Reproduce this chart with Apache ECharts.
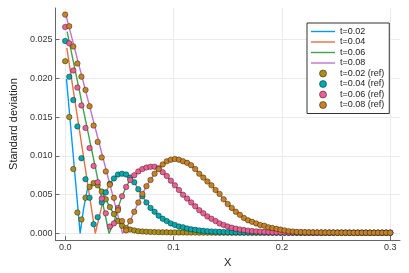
<!DOCTYPE html>
<html><head><meta charset="utf-8">
<script src="https://cdn.jsdelivr.net/npm/echarts@6/dist/echarts.min.js"></script>
<style>html,body{margin:0;padding:0;background:#fff}#c{width:409px;height:273px}</style>
</head><body><div id="c"></div>
<script>
// grid of x positions for the reference points
const xs = [0,0.00375,0.0075,0.01125,0.015,0.01875,0.0225,0.02625,0.03,0.03375,0.0375,0.04125,0.045,0.04875,0.0525,0.05625,0.06,0.06375,0.0675,0.07125,0.075,0.07875,0.0825,0.08625,0.09,0.09375,0.0975,0.10125,0.105,0.10875,0.1125,0.11625,0.12,0.12375,0.1275,0.13125,0.135,0.13875,0.1425,0.14625,0.15,0.15375,0.1575,0.16125,0.165,0.16875,0.1725,0.17625,0.18,0.18375,0.1875,0.19125,0.195,0.19875,0.2025,0.20625,0.21,0.21375,0.2175,0.22125,0.225,0.22875,0.2325,0.23625,0.24,0.24375,0.2475,0.25125,0.255,0.25875,0.2625,0.26625,0.27,0.27375,0.2775,0.28125,0.285,0.28875,0.2925,0.29625,0.3];

const ref02 = [0.0222,0.0150,0.0083,0.0027,0.0018,0.0046,0.0060,0.0065,0.0062,0.0054,0.0044,0.0034,0.0025,0.0016,0.0010,0.0007,0.0005,0.0004,0.0003,0.00026,0.00023,0.0002,0.00018,0.00017,0.00016,0.00015,0.00014,0.00014,0.00013,0.00013,0.00012,0.00012,0.00012,0.00011,0.00011,0.00011,0.00011,0.0001,0.0001,0.0001,0.0001,0.0001,0.0001,0.0001,0.0001,0.0001,0.0001,0.0001,0.0001,0.0001,0.0001,0.0001,0.0001,0.0001,0.0001,0.0001,0.0001,0.0001,0.0001,0.0001,0.0001,0.0001,0.0001,0.0001,0.0001,0.0001,0.0001,0.0001,0.0001,0.0001,0.0001,0.0001,0.0001,0.0001,0.0001,0.0001,0.0001,0.0001,0.0001,0.0001,0.0001];

const ref04 = [0.0248,0.0202,0.0172,0.0138,0.0097,0.0070,0.0046,0.0012,0.0021,0.0040,0.0053,0.0064,0.0071,0.0076,0.0077,0.0076,0.0072,0.0066,0.0057,0.0048,0.0040,0.0033,0.0028,0.0023,0.0019,0.0016,0.0013,0.0011,0.0009,0.0008,0.00065,0.00055,0.00047,0.0004,0.00035,0.0003,0.00027,0.00024,0.00021,0.00019,0.00017,0.00016,0.00015,0.00015,0.00014,0.00014,0.00013,0.00013,0.00012,0.00012,0.00012,0.00011,0.00011,0.00011,0.00011,0.0001,0.0001,0.0001,0.0001,0.0001,0.0001,0.0001,0.0001,0.0001,0.0001,0.0001,0.0001,0.0001,0.0001,0.0001,0.0001,0.0001,0.0001,0.0001,0.0001,0.0001,0.0001,0.0001,0.0001,0.0001,0.0001];

const ref06 = [0.0266,0.0245,0.0210,0.0188,0.0165,0.0136,0.0110,0.0087,0.0066,0.0045,0.0026,0.0009,0.0013,0.0033,0.0048,0.0060,0.0069,0.0075,0.0080,0.0083,0.0085,0.0086,0.0086,0.0084,0.0079,0.0074,0.0068,0.0062,0.0056,0.0050,0.0045,0.0040,0.0035,0.0030,0.0026,0.0022,0.0019,0.0016,0.0013,0.0011,0.0009,0.00075,0.00062,0.00052,0.00044,0.00037,0.00031,0.00027,0.00024,0.00021,0.00019,0.00017,0.00016,0.00015,0.00014,0.00013,0.00013,0.00012,0.00012,0.00011,0.00011,0.0001,0.0001,0.0001,0.0001,0.0001,0.0001,0.0001,0.0001,0.0001,0.0001,0.0001,0.0001,0.0001,0.0001,0.0001,0.0001,0.0001,0.0001,0.0001,0.0001];

const ref08 = [0.0282,0.0267,0.0241,0.0219,0.0202,0.0185,0.0164,0.0139,0.0118,0.0098,0.0080,0.0063,0.0046,0.0030,0.0016,0.0004,0.0016,0.0028,0.0040,0.0051,0.0061,0.0069,0.0077,0.0083,0.0089,0.0093,0.0095,0.0096,0.0095,0.0093,0.0091,0.0088,0.0083,0.0077,0.0072,0.0067,0.0062,0.0056,0.0051,0.0044,0.0038,0.0033,0.0028,0.0024,0.0020,0.0017,0.0015,0.0013,0.0011,0.0010,0.0008,0.0007,0.0006,0.0005,0.0004,0.0003,0.00025,0.0002,0.00018,0.00017,0.00016,0.00015,0.00014,0.00013,0.00013,0.00012,0.00012,0.00011,0.00011,0.00011,0.0001,0.0001,0.0001,0.0001,0.0001,0.0001,0.0001,0.0001,0.0001,0.0001,0.0001];

// numerical solution lines: start point, zero (kink) point and rise, then they run along the reference
const line02Head = [[0.0012,0.0199],[0.0138,0.0],[0.0170,0.0032],[0.0203,0.0056],[0.0235,0.0062],[0.02625,0.0063]];
const line02From = 8;
const line04Head = [[0.0015,0.0239],[0.0278,0.0],[0.0305,0.0016],[0.03375,0.0035]];
const line04From = 10;
const line06Head = [[0.0018,0.0260],[0.0405,0.0],[0.045,0.0015],[0.04875,0.0033]];
const line06From = 14;
const line08Head = [[0.0008,0.0281],[0.0530,0.0],[0.06,0.0016]];
const line08From = 17;

const xTicks = [0, 0.1, 0.2, 0.3];
const yTicks = [0, 0.005, 0.010, 0.015, 0.020, 0.025];

const lineNames = ['t=0.02','t=0.04','t=0.06','t=0.08'];
const refNames = ['t=0.02 (ref)','t=0.04 (ref)','t=0.06 (ref)','t=0.08 (ref)'];
const lineColors = ['#009AFA','#E36F47','#3EA44E','#C271D2'];
const refColors = ['#AC8D18','#00A9AD','#ED5E93','#C68225'];

const refs = [ref02, ref04, ref06, ref08];
const heads = [line02Head, line04Head, line06Head, line08Head];
const froms = [line02From, line04From, line06From, line08From];

const FONT = 'Liberation Sans, Arial, Helvetica, sans-serif';
const series = [];
for (let k = 0; k < 4; k++) {
  const data = heads[k].concat(xs.slice(froms[k]).map((x, j) => [x, refs[k][froms[k] + j]]));
  series.push({
    name: lineNames[k], type: 'line', data: data, showSymbol: false, symbol: 'none',
    lineStyle: { color: lineColors[k], width: 1.4 }, itemStyle: { color: lineColors[k] },
    z: 2, animation: false, silent: true
  });
}
for (let k = 0; k < 4; k++) {
  series.push({
    name: refNames[k], type: 'scatter', data: xs.map((x, i) => [x, refs[k][i]]),
    symbol: 'circle', symbolSize: 5.5,
    itemStyle: { color: refColors[k], borderColor: 'rgba(0,0,0,0.75)', borderWidth: 0.5, opacity: 1 },
    z: 5 + k, animation: false, silent: true
  });
}

const lineIcon = 'path://M0,0L24,0L24,1.4L0,1.4Z';
const legendData = lineNames.map(n => ({ name: n, icon: lineIcon }))
  .concat(refNames.map(n => ({ name: n, icon: 'circle', itemStyle: { borderWidth: 0.6, borderColor: 'rgba(0,0,0,0.75)' } })));

const chart = echarts.init(document.getElementById('c'), null, { renderer: 'canvas' });
chart.setOption({
  backgroundColor: '#fff',
  animation: false,
  textStyle: { fontFamily: FONT },
  grid: { left: 46, right: 9, top: 8, bottom: 30 },
  legend: {
    orient: 'vertical', left: 307, top: 23,
    data: legendData,
    itemWidth: 24, itemHeight: 7, itemGap: 1.5,
    padding: [4, 5, 4, 4],
    borderColor: '#333', borderWidth: 1, backgroundColor: '#fff',
    textStyle: { fontSize: 9, color: '#222', fontFamily: FONT, lineHeight: 9 },
    selectedMode: false
  },
  xAxis: {
    type: 'value', min: -0.009, max: 0.309,
    name: 'X', nameLocation: 'middle', nameGap: 13,
    nameTextStyle: { fontSize: 11, color: '#222', fontFamily: FONT },
    axisLine: { show: true, onZero: false, lineStyle: { color: '#666', width: 1 } },
    axisTick: { show: true, inside: true, length: 4, customValues: xTicks, lineStyle: { color: '#666' } },
    axisLabel: { customValues: xTicks, margin: 3, fontSize: 9, color: '#333', fontFamily: FONT,
      formatter: v => v.toFixed(1) },
    splitLine: { show: true, lineStyle: { color: '#ebebeb', width: 1 } }
  },
  yAxis: {
    type: 'value', min: -0.00085, max: 0.02905,
    name: 'Standard deviation', nameLocation: 'middle', nameGap: 29,
    nameTextStyle: { fontSize: 11, color: '#222', fontFamily: FONT },
    axisLine: { show: true, onZero: false, lineStyle: { color: '#666', width: 1 } },
    axisTick: { show: true, inside: true, length: 4, customValues: yTicks, lineStyle: { color: '#666' } },
    axisLabel: { customValues: yTicks, margin: 3, fontSize: 9, color: '#333', fontFamily: FONT,
      formatter: v => v.toFixed(3) },
    splitLine: { show: true, lineStyle: { color: '#ebebeb', width: 1 } }
  },
  series: series
});
</script></body></html>
